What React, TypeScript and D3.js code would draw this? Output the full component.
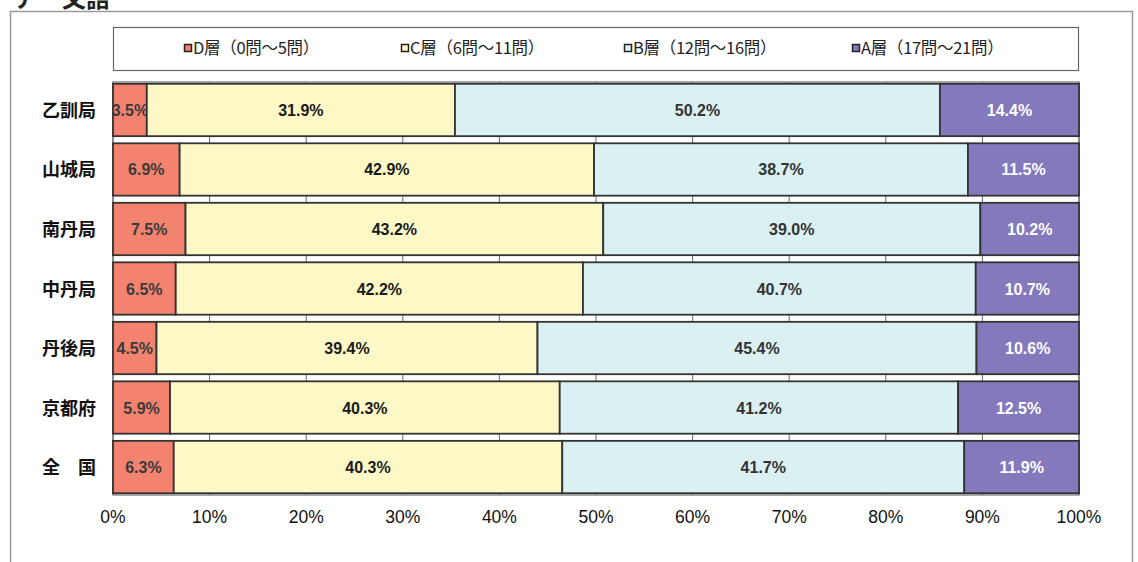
import React from "react";
import * as d3 from "d3";

const categories = ["乙訓局", "山城局", "南丹局", "中丹局", "丹後局", "京都府", "全　国"];
const seriesKeys = ["D", "C", "B", "A"];
const seriesNames = ["D層（0問～5問）", "C層（6問～11問）", "B層（12問～16問）", "A層（17問～21問）"];
const valuesD = [3.5, 6.9, 7.5, 6.5, 4.5, 5.9, 6.3];
const valuesC = [31.9, 42.9, 43.2, 42.2, 39.4, 40.3, 40.3];
const valuesB = [50.2, 38.7, 39.0, 40.7, 45.4, 41.2, 41.7];
const valuesA = [14.4, 11.5, 10.2, 10.7, 10.6, 12.5, 11.9];
const xTicks = [0, 10, 20, 30, 40, 50, 60, 70, 80, 90, 100];

const colors: Record<string, string> = { D: "#F3836F", C: "#FCF9C6", B: "#DBF0F3", A: "#8479BC" };
const labelColors: Record<string, string> = { D: "#3a3a3a", C: "#1a1a1a", B: "#333", A: "#ffffff" };

export default function App() {
  const W = 1138, H = 562;
  const left = 113, right = 1079, top = 82, bottom = 495;
  const rows = categories.map((c, i) => ({
    cat: c, D: valuesD[i], C: valuesC[i], B: valuesB[i], A: valuesA[i],
  }));
  const stack = d3.stack<any>().keys(seriesKeys).offset(d3.stackOffsetExpand);
  const series = stack(rows);
  const x = d3.scaleLinear().domain([0, 1]).range([left, right]);
  const y = d3.scaleBand().domain(categories).range([top, bottom]).paddingInner(0.12).paddingOuter(0.03);
  const legendX = [188, 405, 628, 856];
  const jp = "'Noto Sans CJK JP', sans-serif";
  const ar = "'Liberation Sans', Arial, sans-serif";
  return (
    <svg width={W} height={H} style={{ position: "absolute", left: 0, top: 0, background: "#fff" }}>
      <text x={14} y={7} fontSize={24} fontFamily={jp} fontWeight={700} fill="#222">ア　文語</text>
      <rect x={10.5} y={11.5} width={1122} height={560} fill="none" stroke="#9a9a9a" strokeWidth={1.5} />
      {/* legend */}
      <rect x={113.5} y={27.5} width={965} height={43} fill="#fff" stroke="#666" strokeWidth={1.2} />
      {seriesKeys.map((k, i) => (
        <g key={k}>
          <rect x={legendX[i] - 3.5} y={44.5} width={7} height={7} fill={colors[k]} stroke="#222" strokeWidth={1.5} />
          <text x={legendX[i] + 5} y={54} fontSize={16.5} fontFamily={jp} fill="#222" letterSpacing={-0.3}>{seriesNames[i]}</text>
        </g>
      ))}
      {/* plot frame and gridlines */}
      <rect x={left} y={top} width={right - left} height={bottom - top} fill="#fff" stroke="#555" strokeWidth={1} />
      {xTicks.map((t) => (
        <line key={t} x1={x(t / 100)} x2={x(t / 100)} y1={top} y2={bottom} stroke="#666" strokeWidth={1} />
      ))}
      {/* bars */}
      {series.map((s) => (
        <g key={s.key}>
          {s.map((d, i) => {
            const cat = categories[i];
            const x0 = x(d[0]), x1 = x(d[1]);
            const y0 = y(cat)!;
            const v = (rows[i] as any)[s.key] as number;
            return (
              <g key={cat}>
                <rect x={x0} y={y0} width={x1 - x0} height={y.bandwidth()} fill={colors[s.key]} stroke="#333" strokeWidth={1.8} />
                <text x={(x0 + x1) / 2} y={y0 + y.bandwidth() / 2 + 6} textAnchor="middle" fontSize={16} fontWeight={700} fontFamily={ar} fill={labelColors[s.key]}>
                  {v.toFixed(1)}%
                </text>
              </g>
            );
          })}
        </g>
      ))}
      {/* category labels */}
      {categories.map((c) => (
        <text key={c} x={96} y={y(c)! + y.bandwidth() / 2 + 7} textAnchor="end" fontSize={18} fontWeight={700} fontFamily={jp} fill="#111">{c}</text>
      ))}
      {/* x axis labels */}
      {xTicks.map((t) => (
        <text key={t} x={x(t / 100)} y={523} textAnchor="middle" fontSize={17.5} fontFamily={ar} fill="#111">{t}%</text>
      ))}
    </svg>
  );
}
